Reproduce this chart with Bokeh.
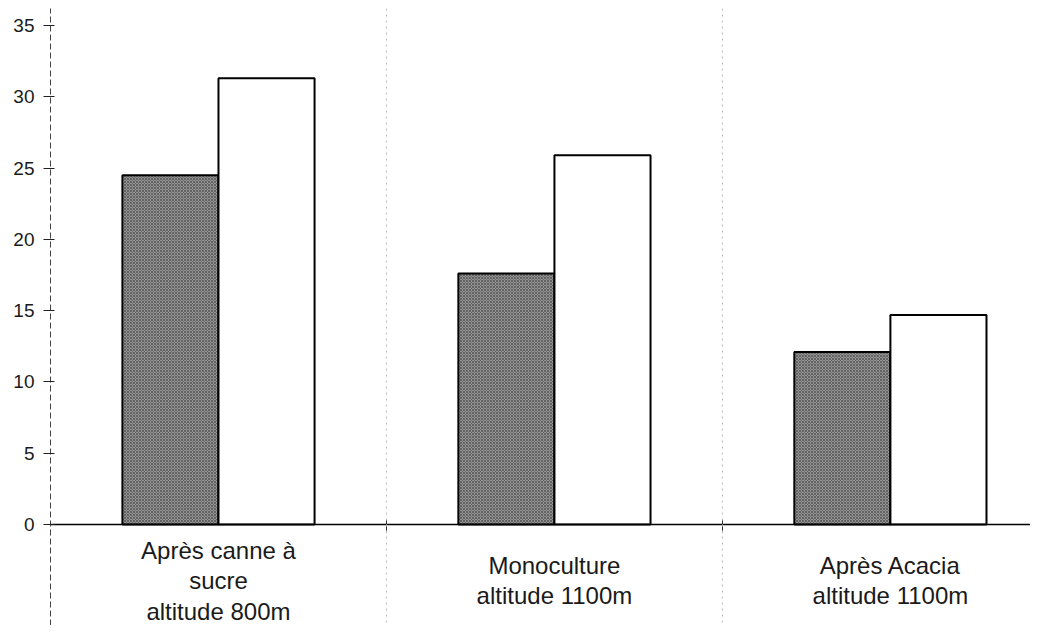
import numpy as np
from bokeh.plotting import figure
from bokeh.models import Range1d, FixedTicker, LinearAxis, Span, ColumnDataSource
from bokeh.core.properties import value
from bokeh.embed import file_html
from bokeh.resources import INLINE

categories = ["Après canne à\nsucre\naltitude 800m",
              "Monoculture\naltitude 1100m",
              "Après Acacia\naltitude 1100m"]
series_dark = [24.5, 17.6, 12.1]
series_white = [31.3, 25.9, 14.7]
y_ticks = [0, 5, 10, 15, 20, 25, 30, 35]

idx = np.arange(len(categories))
centers = idx + 0.5
bw = 0.286
label_y = -3.95

p = figure(width=1030, height=625, output_backend="svg", toolbar_location=None,
           x_range=Range1d(0, 2.917), y_range=Range1d(-7.08, 36.19),
           x_axis_location=None,
           min_border_left=50, min_border_right=0, min_border_top=8, min_border_bottom=0)
p.outline_line_color = None
p.xgrid.visible = False
p.ygrid.visible = False
p.background_fill_color = "white"
p.border_fill_color = "white"

# separators
for s in idx[1:]:
    p.add_layout(Span(location=float(s), dimension="height", line_color="#b8b8b8",
                      line_dash="2 4", line_width=1))

src = ColumnDataSource(dict(xd=centers - bw / 2, xw=centers + bw / 2,
                            dark=series_dark, white=series_white))
p.vbar(x="xd", top="dark", bottom=0, width=bw, source=src,
       fill_color="#949494", hatch_pattern="diagonal_cross", hatch_color="#555555",
       hatch_scale=3, hatch_weight=0.8, line_color="black", line_width=2)
p.vbar(x="xw", top="white", bottom=0, width=bw, source=src,
       fill_color="white", line_color="black", line_width=2)

# y axis
ya = p.yaxis[0]
ya.ticker = FixedTicker(ticks=y_ticks)
ya.axis_line_color = "#444444"
ya.axis_line_dash = "6 3"
ya.axis_line_width = 1
ya.major_tick_in = 4
ya.major_tick_out = 7
ya.major_tick_line_color = "#222222"
ya.minor_tick_line_color = None
ya.major_label_standoff = 9
ya.major_label_text_font = "Liberation Sans"
ya.major_label_text_font_size = "19px"
ya.major_label_text_color = "#1a1a1a"

# x axis at zero (line + separator ticks)
xa = LinearAxis(fixed_location=0,
                ticker=FixedTicker(ticks=list(centers), minor_ticks=[float(s) for s in idx[1:]]),
                major_label_overrides={float(c): "" for c in centers})
xa.axis_line_color = "black"
xa.axis_line_width = 1.5
xa.major_tick_line_color = None
xa.minor_tick_in = 5
xa.minor_tick_out = 8
xa.minor_tick_line_color = "#333333"
xa.major_label_text_font_size = "0px"
p.add_layout(xa, "below")

# category labels
lsrc = ColumnDataSource(dict(x=centers, y=[label_y] * len(categories), t=categories))
p.text(x="x", y="y", text="t", source=lsrc, text_align="center", text_baseline="middle",
       text_font=value("Liberation Sans"), text_font_size="24px", text_color="#1a1a1a",
       text_line_height=1.12)

open("out.html", "w").write(file_html(p, INLINE))
